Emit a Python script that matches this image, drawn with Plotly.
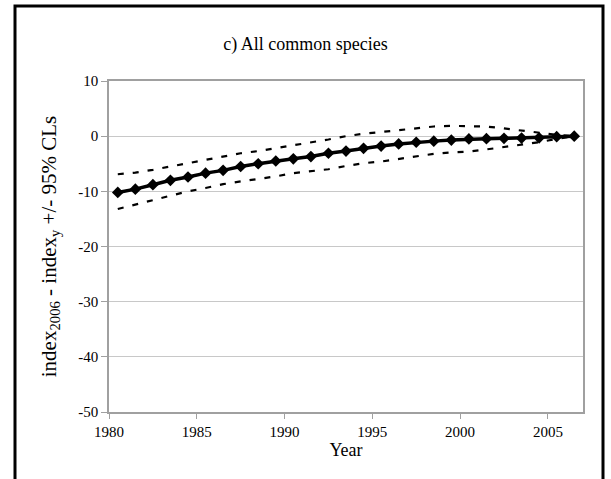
import plotly.graph_objects as go

years = list(range(1980, 2007))
index_diff = [-10.2, -9.6, -8.8, -8.0, -7.4, -6.7, -6.2, -5.5, -5.0, -4.5,
              -4.1, -3.7, -3.1, -2.7, -2.2, -1.8, -1.4, -1.1, -0.9, -0.7,
              -0.5, -0.45, -0.4, -0.35, -0.3, -0.1, 0.0]
upper_cl = [-6.9, -6.6, -6.1, -5.5, -4.8, -4.3, -3.7, -3.1, -2.7, -2.2,
            -1.6, -1.1, -0.6, 0.0, 0.45, 0.75, 1.1, 1.45, 1.75, 1.87,
            1.87, 1.75, 1.4, 1.0, 0.55, 0.25, 0.0]
lower_cl = [-13.2, -12.4, -11.6, -10.9, -10.0, -9.4, -8.7, -8.2, -7.8, -7.3,
            -6.7, -6.4, -6.0, -5.4, -4.9, -4.6, -4.1, -3.6, -3.2, -2.95,
            -2.8, -2.4, -2.0, -1.6, -1.1, -0.5, 0.0]
tick_years = [1980, 1985, 1990, 1995, 2000, 2005]
tick_labels = ["1980", "1985", "1990", "1995", "2000", "2005"]
y_ticks = [10, 0, -10, -20, -30, -40, -50]
y_tick_labels = ["10", "0", "-10", "-20", "-30", "-40", "-50"]

W, H = 611, 479
L, R, T, B = 109, 583, 81, 412

fig = go.Figure()
dash_style = dict(color="black", width=2.2, dash="6px,9px")
fig.add_trace(go.Scatter(x=years, y=upper_cl, mode="lines", line=dash_style,
                         showlegend=False, hoverinfo="skip"))
fig.add_trace(go.Scatter(x=years, y=lower_cl, mode="lines", line=dash_style,
                         showlegend=False, hoverinfo="skip"))
fig.add_trace(go.Scatter(x=years, y=index_diff, mode="lines+markers",
                         line=dict(color="black", width=3.5),
                         marker=dict(symbol="diamond", size=9, color="black"),
                         showlegend=False))

serif = "Liberation Serif"
fig.update_layout(
    width=W, height=H,
    margin=dict(l=L, r=W - R, t=T, b=H - B, pad=0),
    paper_bgcolor="white", plot_bgcolor="white",
    font=dict(family=serif, color="black", size=15),
    title=dict(text="c) All common species", x=0.5, xref="container",
               xanchor="center", y=1 - 44 / H, yref="container", yanchor="middle",
               font=dict(size=18, family=serif, color="black")),
    xaxis=dict(range=[1979.5, 2006.5],
               tickvals=[t - 0.5 for t in tick_years], ticktext=tick_labels,
               ticks="outside", ticklen=5, tickcolor="#a0a0a0",
               showgrid=False, zeroline=False,
               showline=True, linecolor="#a0a0a0", linewidth=1.5, mirror=True,
               tickfont=dict(size=15, family=serif, color="black"),
               title=dict(text="Year", standoff=0,
                          font=dict(size=18, family=serif, color="black"))),
    yaxis=dict(range=[-50, 10], tickvals=y_ticks, ticktext=y_tick_labels,
               ticks="outside", ticklen=6, tickcolor="#a0a0a0",
               showgrid=True, gridcolor="#c8c8c8", gridwidth=1.2,
               zeroline=False,
               showline=True, linecolor="#a0a0a0", linewidth=1.5, mirror=True,
               tickfont=dict(size=15, family=serif, color="black"),
               title=dict(text="index<sub>2006</sub> - index<sub>y</sub> +/- 95% CLs",
                          standoff=16,
                          font=dict(size=21, family=serif, color="black"))),
)

# outer black frame
pw, ph = R - L, B - T
def px(x):
    return (x - L) / pw
def py(y):
    return (B - y) / ph
fig.add_shape(type="rect", xref="paper", yref="paper",
              x0=px(15), x1=px(603), y0=py(485), y1=py(6),
              line=dict(color="black", width=3), fillcolor="rgba(0,0,0,0)",
              layer="above")

fig.write_html("out.html")
